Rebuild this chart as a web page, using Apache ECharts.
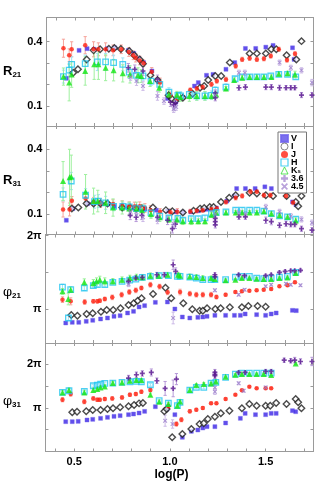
<!DOCTYPE html>
<html><head><meta charset="utf-8">
<script src="https://cdn.jsdelivr.net/npm/echarts@6/dist/echarts.min.js"></script>
<style>html,body{margin:0;padding:0;background:#fff}#c{width:327px;height:491px}</style>
</head><body><div id="c"></div>
<script>
// ---------- axis ticks ----------
const logPTicks = [0.4,0.5,0.6,0.7,0.8,0.9,1.0,1.1,1.2,1.3,1.4,1.5,1.6,1.7];
const logPLabels = [0.5,1.0,1.5];
const rTicks = [0.1,0.2,0.3,0.4];
const rLabels = [0.1,0.4];
const PI = Math.PI;
const phi21Ticks = [PI,1.5*PI,2*PI];
const phi31Ticks = [0.5*PI,PI,1.5*PI,2*PI];
const phiLabels = [PI,2*PI];

// ---------- R21 panel: [logP, value, error] ----------
const r21_V = [[0.454,0.229],[0.521,0.359],[0.563,0.367],[0.600,0.364],[0.669,0.367],[0.708,0.371],[0.779,0.359],[0.808,0.345],[0.835,0.320],[0.859,0.302],[0.903,0.263],[0.985,0.135],[1.028,0.118],[1.066,0.140],[1.126,0.193],[1.146,0.209],[1.189,0.243],[1.223,0.247],[1.291,0.271],[1.337,0.302],[1.393,0.368],[1.447,0.368],[1.500,0.374],[1.538,0.382],[1.640,0.371],[1.648,0.317]];
const r21_I = [[0.490,0.255],[0.515,0.271],[0.561,0.317],[0.597,0.359],[0.631,0.364],[0.677,0.367],[0.706,0.370],[0.740,0.365],[0.784,0.356],[0.810,0.336],[0.839,0.317],[0.856,0.297],[0.895,0.243],[0.932,0.221],[0.990,0.150],[1.009,0.131],[1.026,0.123],[1.065,0.139],[1.116,0.157],[1.155,0.185],[1.177,0.193],[1.198,0.221],[1.235,0.240],[1.266,0.240],[1.311,0.302],[1.415,0.344],[1.453,0.345],[1.500,0.345],[1.529,0.364],[1.555,0.364],[1.609,0.336],[1.660,0.317],[1.687,0.402]];
const r21_J = [[0.439,0.369,0.042],[0.469,0.336,0.03],[0.482,0.364,0.035],[0.553,0.383,0.04],[0.597,0.364,0.035],[0.622,0.364,0.03],[0.660,0.364,0.03],[0.699,0.359,0.025],[0.742,0.364,0.02],[0.782,0.351,0.02],[0.805,0.336,0.02],[0.818,0.325,0.02],[0.839,0.312,0.02],[0.859,0.299,0.015],[0.902,0.259,0.02],[0.946,0.210,0.02],[1.000,0.150,0.015],[1.036,0.135,0.01],[1.104,0.174,0.01],[1.138,0.181,0.01],[1.169,0.188,0.01],[1.215,0.201,0.01],[1.243,0.216,0.01],[1.291,0.224,0.01],[1.342,0.286,0.01],[1.376,0.317,0.01],[1.415,0.322,0.01],[1.453,0.317,0.01],[1.490,0.320,0.01],[1.526,0.333,0.01],[1.568,0.364,0.01],[1.611,0.314,0.01],[1.653,0.343,0.01]];
const r21_H = [[0.439,0.237,0.03],[0.469,0.267,0.03],[0.482,0.294,0.035],[0.553,0.297,0.04],[0.617,0.305,0.04],[0.660,0.305,0.04],[0.702,0.302,0.035],[0.750,0.294,0.03],[0.784,0.258,0.03],[0.822,0.243,0.025],[0.856,0.240,0.02],[0.898,0.216,0.02],[0.944,0.201,0.02],[0.992,0.165,0.02],[1.039,0.150,0.015],[1.053,0.147,0.02],[1.099,0.154,0.02],[1.138,0.147,0.02],[1.181,0.147,0.02],[1.215,0.150,0.02],[1.235,0.174,0.015],[1.291,0.188,0.015],[1.339,0.227,0.01],[1.376,0.236,0.01],[1.415,0.236,0.01],[1.453,0.236,0.01],[1.490,0.236,0.01],[1.526,0.240,0.01],[1.568,0.247,0.01],[1.614,0.247,0.01],[1.657,0.236,0.01]];
const r21_K = [[0.439,0.237,0.04],[0.469,0.209,0.085],[0.482,0.247,0.06],[0.553,0.263,0.066],[0.600,0.294,0.07],[0.622,0.294,0.07],[0.660,0.278,0.06],[0.702,0.267,0.05],[0.750,0.252,0.04],[0.788,0.247,0.04],[0.830,0.243,0.035],[0.847,0.240,0.03],[0.893,0.216,0.025],[0.941,0.185,0.02],[0.992,0.154,0.02],[1.034,0.153,0.015],[1.053,0.142,0.02],[1.099,0.147,0.025],[1.138,0.147,0.02],[1.181,0.147,0.02],[1.215,0.147,0.015],[1.240,0.154,0.015],[1.291,0.181,0.01],[1.334,0.221,0.01],[1.376,0.232,0.01],[1.415,0.235,0.01],[1.453,0.235,0.01],[1.490,0.235,0.01],[1.529,0.235,0.01],[1.568,0.250,0.01],[1.614,0.252,0.01],[1.653,0.247,0.015]];
const r21_36 = [[0.779,0.278,0.02],[0.813,0.271,0.02],[0.856,0.263,0.02],[0.932,0.224,0.02],[1.000,0.118,0.02],[1.017,0.105,0.02],[1.026,0.115,0.02],[1.235,0.139,0.015],[1.235,0.160,0.015],[1.359,0.185,0.012],[1.393,0.188,0.012],[1.500,0.188,0.012],[1.529,0.188,0.012],[1.572,0.185,0.012],[1.606,0.185,0.01],[1.631,0.185,0.01],[1.652,0.185,0.01],[1.687,0.151,0.012],[1.742,0.151,0.012]];
const r21_45 = [[0.791,0.235,0.015],[0.822,0.216,0.02],[0.856,0.193,0.02],[0.932,0.147,0.02],[0.966,0.123,0.015],[1.017,0.085,0.015],[1.030,0.095,0.015],[1.235,0.150,0.015],[1.359,0.255,0.012],[1.390,0.255,0.012],[1.572,0.302,0.012],[1.631,0.278,0.012],[1.687,0.266,0.012],[1.742,0.209,0.015]];

// ---------- R31 panel ----------
const r31_V = [[0.454,0.071],[0.488,0.125],[0.565,0.148],[0.597,0.150],[0.636,0.148],[0.673,0.146],[0.704,0.135],[0.743,0.130],[0.781,0.128],[0.811,0.128],[0.839,0.125],[0.866,0.123],[0.926,0.118],[0.985,0.114],[1.028,0.110],[1.066,0.108],[1.107,0.110],[1.146,0.115],[1.172,0.120],[1.192,0.122],[1.240,0.128],[1.296,0.160],[1.337,0.184],[1.347,0.218],[1.393,0.218],[1.444,0.218],[1.495,0.226],[1.529,0.218],[1.640,0.156],[1.658,0.143]];
const r31_I = [[0.483,0.125],[0.517,0.130],[0.560,0.149],[0.597,0.149],[0.633,0.149],[0.670,0.149],[0.747,0.130],[0.789,0.130],[0.820,0.126],[0.850,0.126],[0.908,0.130],[0.976,0.118],[1.010,0.113],[1.065,0.107],[1.121,0.115],[1.155,0.125],[1.177,0.128],[1.206,0.133],[1.226,0.133],[1.265,0.156],[1.308,0.175],[1.342,0.187],[1.415,0.198],[1.453,0.195],[1.500,0.187],[1.538,0.183],[1.609,0.183],[1.657,0.156],[1.670,0.136],[1.687,0.183]];
const r31_J = [[0.437,0.121,0.035],[0.471,0.121,0.03],[0.483,0.161,0.02],[0.555,0.172,0.02],[0.597,0.157,0.02],[0.633,0.150,0.02],[0.699,0.146,0.02],[0.747,0.141,0.02],[0.784,0.136,0.02],[0.811,0.135,0.02],[0.839,0.136,0.02],[0.866,0.128,0.02],[0.895,0.118,0.02],[0.946,0.110,0.015],[1.000,0.108,0.015],[1.036,0.110,0.015],[1.104,0.112,0.01],[1.138,0.115,0.01],[1.169,0.118,0.01],[1.215,0.122,0.01],[1.243,0.125,0.01],[1.291,0.156,0.01],[1.342,0.175,0.01],[1.376,0.184,0.01],[1.419,0.203,0.01],[1.453,0.203,0.01],[1.490,0.187,0.01],[1.524,0.187,0.01],[1.606,0.184,0.01],[1.643,0.153,0.01]];
const r31_H = [[0.437,0.191,0.03],[0.480,0.253,0.04],[0.555,0.187,0.03],[0.602,0.157,0.03],[0.622,0.160,0.03],[0.660,0.152,0.03],[0.702,0.135,0.02],[0.750,0.135,0.02],[0.784,0.133,0.02],[0.822,0.125,0.02],[0.856,0.125,0.02],[0.898,0.105,0.02],[0.944,0.090,0.015],[0.992,0.082,0.01],[1.039,0.080,0.01],[1.065,0.071,0.01],[1.109,0.079,0.01],[1.146,0.079,0.01],[1.181,0.082,0.01],[1.215,0.102,0.01],[1.240,0.107,0.01],[1.291,0.110,0.01],[1.342,0.118,0.01],[1.376,0.118,0.01],[1.415,0.118,0.01],[1.453,0.118,0.01],[1.490,0.113,0.01],[1.529,0.102,0.01],[1.572,0.091,0.01],[1.614,0.087,0.01],[1.657,0.076,0.01]];
const r31_K = [[0.437,0.253,0.09],[0.471,0.270,0.13],[0.480,0.273,0.1],[0.555,0.203,0.08],[0.597,0.160,0.06],[0.619,0.160,0.05],[0.660,0.152,0.05],[0.699,0.130,0.04],[0.747,0.130,0.03],[0.784,0.125,0.03],[0.822,0.125,0.03],[0.851,0.118,0.025],[0.898,0.100,0.02],[0.944,0.085,0.02],[0.992,0.076,0.015],[1.034,0.075,0.015],[1.065,0.066,0.015],[1.109,0.066,0.015],[1.146,0.066,0.012],[1.181,0.066,0.012],[1.215,0.096,0.012],[1.240,0.107,0.01],[1.291,0.107,0.01],[1.342,0.107,0.01],[1.376,0.107,0.01],[1.415,0.107,0.01],[1.453,0.107,0.01],[1.490,0.113,0.01],[1.529,0.102,0.01],[1.572,0.094,0.01],[1.614,0.087,0.01],[1.657,0.070,0.012]];
const r31_36 = [[0.789,0.094,0.02],[0.820,0.085,0.02],[0.850,0.094,0.02],[0.932,0.085,0.02],[0.985,0.071,0.02],[1.010,0.032,0.02],[1.026,0.053,0.02],[1.235,0.065,0.015],[1.235,0.050,0.015],[1.235,0.080,0.015],[1.359,0.087,0.012],[1.393,0.087,0.012],[1.500,0.071,0.015],[1.529,0.065,0.015],[1.572,0.048,0.012],[1.606,0.055,0.012],[1.631,0.052,0.012],[1.652,0.052,0.012],[1.687,0.032,0.012],[1.742,0.025,0.012]];
const r31_45 = [[0.791,0.110,0.02],[0.822,0.094,0.02],[0.856,0.085,0.02],[0.932,0.075,0.02],[1.017,0.055,0.02],[1.235,0.100,0.015],[1.359,0.107,0.012],[1.393,0.100,0.012],[1.500,0.133,0.012],[1.572,0.110,0.012],[1.631,0.090,0.012],[1.687,0.075,0.012],[1.742,0.060,0.012]];

// ---------- phi21 panel (radians) ----------
const p21_V = [[0.456,2.544],[0.490,2.572],[0.524,2.572],[0.563,2.615],[0.597,2.658],[0.638,2.715],[0.674,2.757],[0.708,2.829],[0.740,2.857],[0.779,2.971],[0.810,3.042],[0.839,3.228],[0.868,3.285],[0.924,3.427],[0.987,3.441],[1.026,3.142],[1.065,2.800],[1.104,2.757],[1.146,2.786],[1.172,2.800],[1.194,2.829],[1.235,2.871],[1.291,2.871],[1.337,2.871],[1.368,2.871],[1.393,2.929],[1.453,2.900],[1.500,2.871],[1.529,2.929],[1.555,2.971],[1.640,3.085],[1.660,3.071]];
const p21_I = [[0.485,2.885],[0.517,2.857],[0.565,2.928],[0.597,2.957],[0.640,3.028],[0.670,3.099],[0.704,3.099],[0.742,3.170],[0.784,3.313],[0.811,3.384],[0.832,3.498],[0.852,3.598],[0.912,3.783],[0.977,4.054],[1.007,3.598],[1.070,3.384],[1.117,3.128],[1.155,3.071],[1.172,3.071],[1.194,3.170],[1.237,3.142],[1.265,3.170],[1.313,3.213],[1.376,3.213],[1.410,3.270],[1.458,3.270],[1.500,3.242]];
const p21_J = [[0.439,3.541,0.12],[0.482,3.470,0.15],[0.555,3.441,0.1],[0.600,3.470,0.08],[0.621,3.470,0.08],[0.634,3.498,0.08],[0.660,3.570,0.08],[0.699,3.641,0.1],[0.748,3.755,0.1],[0.788,3.869,0.1],[0.822,3.940,0.1],[0.851,4.040,0.08],[0.898,4.182,0.1],[0.946,4.100,0.1],[0.988,3.855,0.1],[1.053,3.869,0.12],[1.104,3.798,0.1],[1.138,3.755,0.1],[1.172,3.755,0.1],[1.215,3.755,0.1],[1.243,3.655,0.08],[1.291,3.755,0.06],[1.342,3.869,0.05],[1.376,3.897,0.05],[1.415,3.926,0.05],[1.453,3.940,0.05],[1.490,3.968,0.05],[1.529,3.997,0.05],[1.572,4.111,0.05],[1.614,4.154,0.05],[1.653,4.282,0.05]];
const p21_H = [[0.439,4.082,0.12],[0.470,2.757,0.1],[0.482,3.968,0.12],[0.553,4.040,0.1],[0.600,4.140,0.08],[0.621,4.182,0.08],[0.660,4.182,0.08],[0.702,4.282,0.08],[0.750,4.325,0.08],[0.790,4.380,0.08],[0.822,4.424,0.08],[0.856,4.495,0.08],[0.898,4.538,0.08],[0.944,4.567,0.08],[0.992,4.567,0.08],[1.039,4.538,0.08],[1.053,4.538,0.1],[1.104,4.510,0.1],[1.138,4.467,0.1],[1.172,4.396,0.08],[1.215,4.396,0.08],[1.235,4.396,0.08],[1.291,4.396,0.05],[1.342,4.510,0.05],[1.376,4.538,0.05],[1.415,4.538,0.05],[1.453,4.467,0.05],[1.490,4.438,0.05],[1.529,4.467,0.05],[1.572,4.510,0.05],[1.614,4.538,0.05],[1.657,4.709,0.05]];
const p21_K = [[0.439,3.897,0.12],[0.469,3.570,0.25],[0.482,3.968,0.12],[0.553,4.282,0.15],[0.600,4.253,0.15],[0.617,4.325,0.15],[0.634,4.396,0.15],[0.660,4.325,0.15],[0.702,4.325,0.12],[0.750,4.396,0.12],[0.791,4.467,0.12],[0.825,4.510,0.12],[0.856,4.500,0.12],[0.898,4.567,0.12],[0.941,4.567,0.12],[0.988,4.609,0.1],[1.043,4.609,0.1],[1.053,4.567,0.1],[1.104,4.538,0.1],[1.138,4.510,0.1],[1.172,4.467,0.1],[1.215,4.467,0.08],[1.235,4.424,0.08],[1.291,4.368,0.05],[1.342,4.396,0.05],[1.376,4.467,0.05],[1.415,4.467,0.05],[1.453,4.438,0.05],[1.490,4.424,0.05],[1.529,4.424,0.05],[1.572,4.467,0.05],[1.614,4.495,0.05],[1.657,4.681,0.06]];
const p21_36 = [[0.784,4.325,0.12],[0.822,4.467,0.1],[0.856,4.495,0.1],[0.932,4.609,0.1],[0.971,4.609,0.1],[1.017,5.037,0.2],[1.030,4.750,0.15],[1.235,4.609,0.08],[1.235,4.520,0.08],[1.359,4.609,0.06],[1.390,4.567,0.06],[1.500,4.567,0.06],[1.529,4.609,0.06],[1.572,4.709,0.06],[1.602,4.752,0.06],[1.631,4.780,0.06],[1.652,4.780,0.06],[1.682,4.795,0.06]];
const p21_45 = [[0.784,4.200,0.1],[1.017,2.757,0.25],[1.235,3.940,0.06],[1.359,3.755,0.05],[1.390,3.968,0.05],[1.500,4.111,0.05],[1.529,4.182,0.05],[1.606,4.225,0.05],[1.631,4.182,0.05],[1.682,4.154,0.05]];

// ---------- phi31 panel (radians) ----------
const p31_V = [[0.456,2.144],[0.490,2.144],[0.521,2.168],[0.567,2.264],[0.597,2.312],[0.638,2.384],[0.674,2.455],[0.708,2.527],[0.740,2.575],[0.784,2.647],[0.810,2.694],[0.839,2.766],[0.868,2.886],[0.924,3.221],[0.985,3.053],[1.026,2.647],[1.065,1.021],[1.112,1.451],[1.146,1.547],[1.172,1.690],[1.194,1.786],[1.235,1.786],[1.291,2.049],[1.368,2.384],[1.393,2.742],[1.447,2.647],[1.500,2.647],[1.529,2.742],[1.555,2.742],[1.640,2.934],[1.657,2.862]];
const p31_I = [[0.490,2.814],[0.515,2.862],[0.563,2.886],[0.597,2.981],[0.638,2.981],[0.674,3.053],[0.703,3.101],[0.740,3.173],[0.784,3.245],[0.813,3.340],[0.839,3.460],[0.859,3.484],[0.971,2.886],[0.983,3.053],[1.012,1.020],[1.065,1.260],[1.112,1.618],[1.155,1.977],[1.177,2.025],[1.198,2.336],[1.235,2.503],[1.266,2.742],[1.311,2.934],[1.376,3.101],[1.415,3.412],[1.453,3.292],[1.500,3.292],[1.524,3.292],[1.555,3.484],[1.609,3.412],[1.657,3.771],[1.670,3.532],[1.687,3.101]];
const p31_J = [[0.439,3.723,0.15],[0.482,4.129,0.15],[0.553,3.579,0.15],[0.600,3.819,0.12],[0.621,3.723,0.12],[0.634,3.723,0.12],[0.660,3.771,0.12],[0.699,3.819,0.12],[0.750,3.890,0.12],[0.791,4.081,0.12],[0.822,4.129,0.12],[0.851,4.297,0.12],[0.898,4.416,0.12],[0.992,3.245,0.15],[1.034,1.977,0.15],[1.060,2.288,0.15],[1.104,2.886,0.12],[1.138,3.005,0.1],[1.172,3.125,0.1],[1.215,3.460,0.08],[1.243,3.460,0.08],[1.291,3.771,0.08],[1.342,4.081,0.06],[1.376,4.400,0.06],[1.415,4.660,0.06],[1.453,4.540,0.06],[1.500,4.540,0.06],[1.529,4.540,0.06]];
const p31_H = [[0.439,4.249,0.12],[0.473,4.368,0.12],[0.553,4.320,0.12],[0.600,4.727,0.1],[0.621,4.775,0.1],[0.638,4.847,0.1],[0.660,4.894,0.1],[0.702,4.918,0.1],[0.750,4.966,0.1],[0.791,5.014,0.1],[0.825,5.038,0.1],[0.851,5.014,0.1],[0.898,4.799,0.1],[0.944,3.651,0.1],[0.992,3.484,0.1],[1.039,3.292,0.1],[1.053,3.532,0.12],[1.104,4.416,0.1],[1.138,4.607,0.1],[1.177,4.607,0.1],[1.215,4.918,0.08],[1.240,4.966,0.08],[1.291,5.325,0.06],[1.342,5.564,0.06],[1.376,5.636,0.06],[1.415,5.636,0.06],[1.453,5.636,0.06],[1.490,5.636,0.06],[1.529,5.636,0.06]];
const p31_K = [[0.439,4.249,0.15],[0.473,4.416,0.15],[0.553,4.249,0.15],[0.600,4.416,0.15],[0.621,4.488,0.12],[0.638,4.607,0.12],[0.660,4.679,0.12],[0.702,4.918,0.12],[0.750,4.966,0.12],[0.791,5.086,0.12],[0.825,5.133,0.12],[0.851,5.133,0.12],[0.898,4.081,0.12],[0.944,3.579,0.12],[0.992,3.412,0.12],[1.039,3.292,0.12],[1.053,3.603,0.12],[1.104,4.416,0.12],[1.138,4.775,0.1],[1.177,4.847,0.1],[1.215,4.894,0.08],[1.240,5.038,0.08],[1.291,5.373,0.06],[1.342,5.516,0.06],[1.376,5.564,0.06],[1.415,5.564,0.06],[1.453,5.564,0.06],[1.490,5.564,0.06],[1.529,5.492,0.06],[1.657,6.329,0.08]];
const p31_36 = [[0.784,5.277,0.2],[0.825,5.516,0.2],[0.856,5.612,0.2],[0.903,5.683,0.25],[0.932,5.086,0.2],[0.975,4.536,0.5],[1.017,4.536,0.6],[1.034,5.205,0.4],[1.235,5.450,0.2],[1.235,5.700,0.2],[1.235,5.550,0.2],[1.359,5.683,0.1],[1.393,5.683,0.1],[1.500,5.755,0.15],[1.529,5.755,0.15],[1.597,6.568,0.15],[1.631,6.520,0.15],[1.652,6.568,0.2],[1.682,6.473,0.2],[1.742,6.473,0.3]];
const p31_45 = [[0.975,2.216,0.4],[1.014,1.977,0.3],[1.235,4.607,0.2],[1.235,4.300,0.2],[1.359,4.900,0.1],[1.385,4.368,0.1],[1.500,4.600,0.1]];

// ---------- styles ----------
const PLUS = 'path://M2,0H4V2H6V4H4V6H2V4H0V2H2Z';
const CROSS = 'path://M0,1L1,0L3,2L5,0L6,1L4,3L6,5L5,6L3,4L1,6L0,5L2,3Z';
const SERIES = ['V','I','J','H','Ks','3.6','4.5'];
const STY = {
  'V':  {symbol:'rect', size:4, itemStyle:{color:'#3a22e6', borderColor:'#7064ee', borderWidth:0.5}},
  'I':  {symbol:'diamond', size:6.5, itemStyle:{color:'rgba(255,255,255,0.85)', borderColor:'#1e1e1e', borderWidth:1.4}},
  'J':  {symbol:'circle', size:4.5, itemStyle:{color:'#ff2010'}, err:'#f6a39a'},
  'H':  {symbol:'rect', size:5.5, itemStyle:{color:'rgba(255,255,255,0)', borderColor:'#22c4f0', borderWidth:1.3}, err:'#9fe2f4'},
  'Ks': {symbol:'triangle', size:6, itemStyle:{color:'#14e614'}, err:'#9ff09f'},
  '3.6':{symbol:PLUS, size:5, itemStyle:{color:'#5a1890'}, err:'#b79ad8'},
  '4.5':{symbol:CROSS, size:4.5, itemStyle:{color:'#9c80cc'}, err:'#cbb8e6'}
};
const FRAME = '#9a9a9a';
const FONT = 'Liberation Sans';

const piFmt = v => (Math.abs(v - PI) < 1e-6 ? 'π' : '2π');
const rFmt = v => v.toFixed(1);

const panels = [
  {data:[r21_V,r21_I,r21_J,r21_H,r21_K,r21_36,r21_45], min:0.007, max:0.512, ticks:rTicks, labels:rLabels, fmt:rFmt,
   name:'{r|R}{s|21}', top:17.5},
  {data:[r31_V,r31_I,r31_J,r31_H,r31_K,r31_36,r31_45], min:0.005, max:0.508, ticks:rTicks, labels:rLabels, fmt:rFmt,
   name:'{r|R}{s|31}', top:126},
  {data:[p21_V,p21_I,p21_J,p21_H,p21_K,p21_36,p21_45], min:1.687, max:6.33, ticks:phi21Ticks, labels:phiLabels, fmt:piFmt,
   name:'{p|φ}{s|21}', top:234.5},
  {data:[p31_V,p31_I,p31_J,p31_H,p31_K,p31_36,p31_45], min:0, max:7.8, ticks:phi31Ticks, labels:phiLabels, fmt:piFmt,
   name:'{p|φ}{s|31}', top:343}
];
const H = 108.5;

const grid = [], xAxis = [], yAxis = [], series = [];
const nameRich = {
  r:{fontFamily:FONT, fontWeight:'bold', fontSize:13, lineHeight:15, color:'#000'},
  p:{fontFamily:'DejaVu Serif', fontSize:13, lineHeight:15, color:'#000'},
  s:{fontFamily:FONT, fontWeight:'bold', fontSize:8, lineHeight:9, verticalAlign:'bottom', color:'#000'}
};
panels.forEach((p, i) => {
  grid.push({left:39.5, width:274, top:p.top, height:H, show:false});
  const tickStyle = {color:FRAME, width:1};
  const xa = (pos, showLab) => ({
    gridIndex:i, type:'value', min:0.35, max:1.75, position:pos,
    axisLine:{show:true, onZero:false, lineStyle:{color:FRAME, width:1}},
    axisTick:{show:true, inside:true, length:3, customValues:logPTicks, lineStyle:tickStyle},
    axisLabel:{show:showLab, customValues:logPLabels, formatter:v=>v.toFixed(1), margin:5,
      fontFamily:FONT, fontWeight:'bold', fontSize:11, color:'#000'},
    splitLine:{show:false},
    name: showLab ? 'log(P)' : '', nameLocation:'middle', nameGap:17,
    nameTextStyle:{fontFamily:FONT, fontWeight:'bold', fontSize:12, color:'#000', padding:[0,16,0,0]}
  });
  xAxis.push(xa('bottom', i === 3), xa('top', false));
  const ya = (pos, showLab) => ({
    gridIndex:i, type:'value', min:p.min, max:p.max, position:pos,
    axisLine:{show:true, onZero:false, lineStyle:{color:FRAME, width:1}},
    axisTick:{show:true, inside:true, length:3, customValues:p.ticks, lineStyle:tickStyle},
    axisLabel:{show:showLab, customValues:p.labels, formatter:p.fmt, margin:4,
      fontFamily:FONT, fontWeight:'bold', fontSize:11, color:'#000'},
    splitLine:{show:false},
    name: showLab ? p.name : '', nameLocation:'middle', nameRotate:0, nameGap:16,
    nameTextStyle:{rich:nameRich, padding: i >= 2 ? [8,0,0,0] : 0}
  });
  yAxis.push(ya('left', true), ya('right', false));

  SERIES.forEach((s, k) => {
    const st = STY[s];
    const arr = p.data[k];
    if (st.err) {
      series.push({
        type:'custom', name:s + ' err', xAxisIndex:2*i, yAxisIndex:2*i, z:1, silent:true,
        data: arr.map(d => [d[0], d[1], d[2]]),
        encode:{x:0, y:1},
        renderItem: (params, api) => {
          const x = api.value(0), y = api.value(1), e = api.value(2);
          const a = api.coord([x, y - e]), b = api.coord([x, y + e]);
          const cw = 1.6, sty = {stroke:st.err, lineWidth:1};
          return {type:'group', children:[
            {type:'line', shape:{x1:a[0], y1:a[1], x2:b[0], y2:b[1]}, style:sty},
            {type:'line', shape:{x1:a[0]-cw, y1:a[1], x2:a[0]+cw, y2:a[1]}, style:sty},
            {type:'line', shape:{x1:b[0]-cw, y1:b[1], x2:b[0]+cw, y2:b[1]}, style:sty}
          ]};
        }
      });
    }
    series.push({
      type:'scatter', name:s, xAxisIndex:2*i, yAxisIndex:2*i, z:2 + k*0.01,
      data: arr.map(d => [d[0], d[1]]),
      symbol: st.symbol, symbolSize: st.size, itemStyle: st.itemStyle
    });
  });
});

const legend = {
  orient:'vertical', left:278, top:132, padding:[2,3,2,2],
  itemWidth:7, itemHeight:7, itemGap:-1,
  borderColor:'#777', borderWidth:1, backgroundColor:'#fff',
  selectedMode:false,
  data:[
    {name:'V', icon:'rect', itemStyle:{color:'#5a4ce9'}},
    {name:'I', icon:'circle', itemStyle:{color:'#fff', borderColor:'#666', borderWidth:1}},
    {name:'J', icon:'circle', itemStyle:{color:'#ff2010'}},
    {name:'H', icon:'rect', itemStyle:{color:'#fff', borderColor:'#22c4f0', borderWidth:1.2}},
    {name:'Ks', icon:'triangle', itemStyle:{color:'#fff', borderColor:'#33dd33', borderWidth:1}},
    {name:'3.6', icon:PLUS, itemStyle:{color:'#a88bd2'}},
    {name:'4.5', icon:CROSS, itemStyle:{color:'#a88bd2'}}
  ],
  formatter: n => n === 'Ks' ? '{a|K}{b|s}' : '{a|' + n + '}',
  textStyle:{padding:[0,0,0,-2], rich:{
    a:{fontFamily:FONT, fontWeight:'bold', fontSize:9, lineHeight:8, color:'#000'},
    b:{fontFamily:FONT, fontWeight:'bold', fontSize:6, lineHeight:8, verticalAlign:'bottom', color:'#000'}
  }}
};

const chart = echarts.init(document.getElementById('c'), null, {renderer:'canvas'});
chart.setOption({animation:false, backgroundColor:'#fff', grid, xAxis, yAxis, series, legend});
</script></body></html>
